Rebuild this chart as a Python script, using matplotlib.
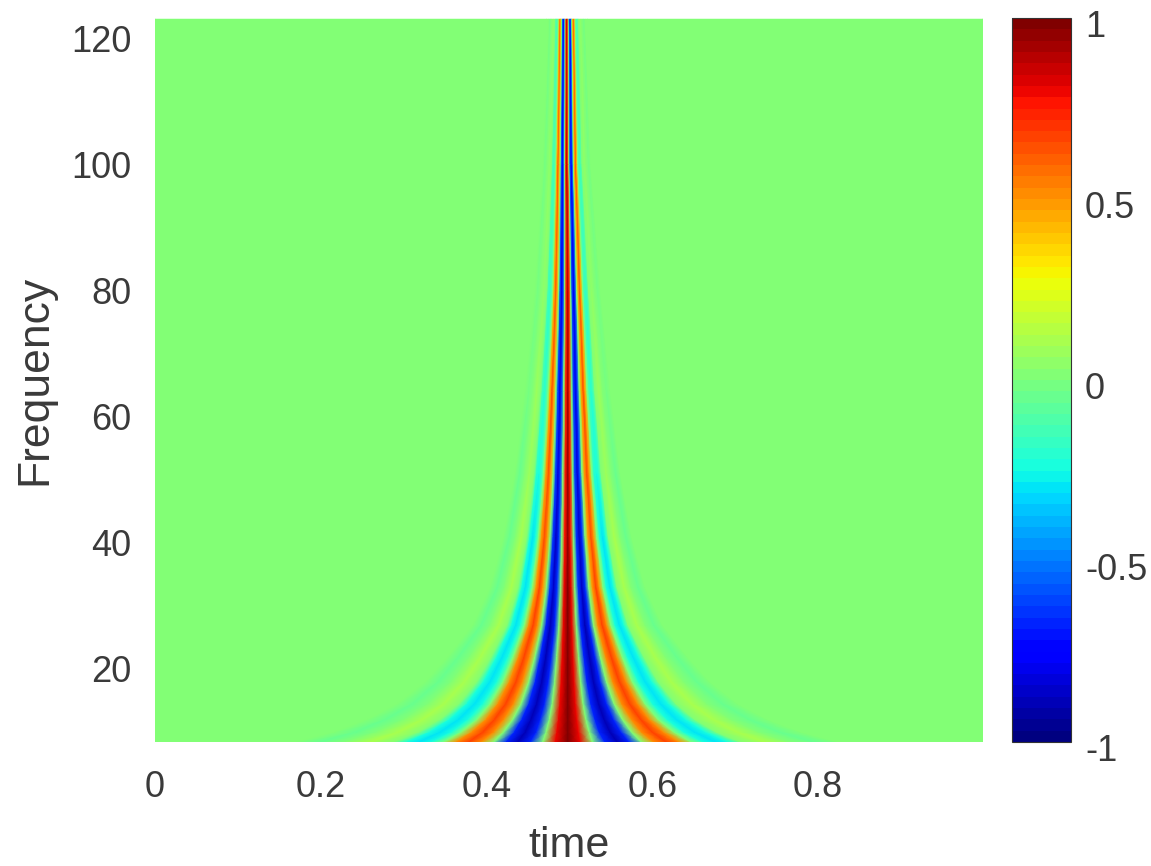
import numpy as np
import matplotlib
matplotlib.use('Agg')
import matplotlib.pyplot as plt
from matplotlib.transforms import ScaledTranslation

plt.rcParams['font.family'] = ['Liberation Sans', 'DejaVu Sans']

text_color = '#3a3a3a'

# colour value at the centre line and along each band, going out from the centre
center_value = 1.0
band_values = [0.8, 0, -0.66, -0.88, -0.66, 0, 0.5, 0.68, 0.5, 0, -0.24, -0.3, -0.24, 0, 0.11, 0, -0.04, 0.015, 0]

# frequency rows
freq_rows = [8.4, 10, 12, 14.5, 18, 22, 27, 33, 41, 51, 64, 80, 100, 123]

# how strong the bands look on each row
row_gain = [1.0, 1.0, 1.0, 1.0, 1.0, 1.0, 1.0, 0.98, 0.96, 0.94, 0.92, 0.9, 0.88, 0.85]

# the outer bands fade out faster towards the top
outer_gain = [1.0, 1.0, 1.0, 1.0, 1.0, 1.0, 1.0, 1.0, 1.0, 0.85, 0.7, 0.6, 0.5, 0.4]
first_outer_band = 10

# time of the centre line on each row
row_center = [0.498, 0.498, 0.498, 0.498, 0.498, 0.498, 0.498, 0.498, 0.498, 0.498, 0.498, 0.498, 0.497, 0.497]

# distance in time from the centre to each band, one list per row
band_offsets = [
    [.015, .030, .045, .060, .074, .089, .104, .119, .134, .149, .164, .179, .193, .208, .238, .268, .298, .327, .357],
    [.013, .026, .038, .051, .064, .077, .089, .102, .115, .128, .140, .153, .166, .179, .204, .230, .255, .281, .306],
    [.011, .022, .033, .044, .055, .066, .077, .088, .098, .109, .120, .131, .142, .153, .175, .197, .219, .241, .263],
    [.0093, .0186, .0279, .0373, .0466, .0559, .0652, .0745, .0838, .0931, .1024, .1118, .1211, .1304, .1490, .1676, .1863, .2049, .2235],
    [.0078, .0156, .0233, .0311, .0389, .0467, .0544, .0622, .0700, .0778, .0855, .0933, .1011, .1089, .1244, .1400, .1555, .1711, .1866],
    [.0065, .0131, .0196, .0262, .0327, .0392, .0458, .0523, .0588, .0654, .0719, .0785, .0850, .0915, .1046, .1177, .1308, .1438, .1569],
    [.0052, .0104, .0156, .0208, .0259, .0311, .0363, .0415, .0467, .0519, .0571, .0623, .0674, .0726, .0830, .0934, .1038, .1141, .1245],
    [.0042, .0085, .0127, .0170, .0212, .0254, .0297, .0339, .0381, .0424, .0466, .0509, .0551, .0593, .0678, .0763, .0848, .0932, .1017],
    [.0035, .0070, .0105, .0140, .0175, .0210, .0245, .0280, .0315, .0350, .0385, .0420, .0455, .0490, .0560, .0630, .0700, .0770, .0840],
    [.0029, .0058, .0087, .0116, .0144, .0173, .0202, .0231, .0260, .0289, .0318, .0347, .0375, .0404, .0462, .0520, .0578, .0635, .0693],
    [.0023, .0047, .0070, .0094, .0117, .0141, .0164, .0188, .0211, .0234, .0258, .0281, .0305, .0328, .0375, .0422, .0469, .0516, .0563],
    [.0018, .0036, .0054, .0072, .0090, .0108, .0126, .0144, .0162, .0180, .0198, .0216, .0234, .0252, .0288, .0324, .0360, .0396, .0432],
    [.0013, .0026, .0039, .0053, .0066, .0079, .0092, .0105, .0118, .0131, .0144, .0158, .0171, .0184, .0210, .0236, .0263, .0289, .0315],
    [.0010, .0020, .0030, .0041, .0051, .0061, .0071, .0081, .0091, .0101, .0111, .0122, .0132, .0142, .0162, .0182, .0203, .0223, .0243],
]

time_limits = [0, 0.999]
freq_limits = [8.4, 123.2]
x_ticks = [0, 0.2, 0.4, 0.6, 0.8]
x_tick_labels = ['0', '0.2', '0.4', '0.6', '0.8']
y_ticks = [20, 40, 60, 80, 100, 120]
cbar_ticks = [-1, -0.5, 0, 0.5, 1]
cbar_labels = ['-1', '-0.5', '0', '0.5', '1']

W, H = 1151, 866
fig = plt.figure(figsize=(W / 100, H / 100), dpi=100)
ax = fig.add_axes([155 / W, 1 - 742 / H, 828 / W, 724 / H])
cax = fig.add_axes([1012 / W, 1 - 742 / H, 59 / W, 724 / H])

# mirror the bands to both sides of the centre line
offsets = np.array(band_offsets)
values = np.array(band_values)
n_rows = len(freq_rows)
n_cols = offsets.shape[1] * 2 + 3
X = np.zeros((n_rows, n_cols))
Y = np.zeros((n_rows, n_cols))
C = np.zeros((n_rows, n_cols))
for i in range(n_rows):
    row_values = values.copy()
    row_values[first_outer_band:] *= outer_gain[i]
    X[i] = np.concatenate([[time_limits[0]], row_center[i] - offsets[i][::-1], [row_center[i]],
                           row_center[i] + offsets[i], [time_limits[1]]])
    Y[i] = freq_rows[i]
    C[i] = row_gain[i] * np.concatenate([[0], row_values[::-1], [center_value], row_values, [0]])

jet64 = plt.get_cmap('jet', 64)
mesh = ax.pcolormesh(X, Y, C, shading='gouraud', cmap=jet64, vmin=-1, vmax=1)
ax.set_xlim(time_limits)
ax.set_ylim(freq_limits)
ax.set_xticks(x_ticks)
ax.set_xticklabels(x_tick_labels)
ax.set_yticks(y_ticks)
ax.tick_params(axis='x', length=0, labelsize=26, labelcolor=text_color, pad=20)
ax.tick_params(axis='y', length=0, labelsize=26, labelcolor=text_color, pad=17)
for s in ax.spines.values():
    s.set_visible(False)
ax.set_xlabel('time', fontsize=31, color=text_color, va='center')
ax.set_ylabel('Frequency', fontsize=32, color=text_color, va='center')
ax.xaxis.set_label_coords(0.5, -0.143)
ax.yaxis.set_label_coords(-0.145, 0.5)

cb = fig.colorbar(mesh, cax=cax)
cb.set_ticks(cbar_ticks)
cb.set_ticklabels(cbar_labels)
cax.tick_params(length=0, labelsize=26, labelcolor=text_color, pad=10)
cb.outline.set_edgecolor('#333333')
cb.outline.set_linewidth(0.8)

# labels on the colorbar sit a little below their ticks
shift = ScaledTranslation(0, -4 / 72, fig.dpi_scale_trans)
for lab in cax.get_yticklabels():
    lab.set_transform(lab.get_transform() + shift)

fig.savefig('out.png', dpi=100)
